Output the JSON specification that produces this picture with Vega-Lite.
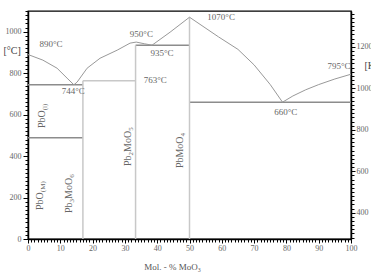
{
  "$schema": "https://vega.github.io/schema/vega-lite/v6.json",
  "autosize": "none",
  "width": 323,
  "height": 228,
  "padding": {"left": 28, "top": 11, "right": 20, "bottom": 37},
  "background": "white",
  "config": {
    "view": {"stroke": "#000", "strokeWidth": 1.3},
    "axis": {"labelFont": "Liberation Serif", "labelFontSize": 8, "labelColor": "#666", "tickColor": "#000", "domainColor": "#000", "domainWidth": 1.5, "grid": false, "titleFont": "Liberation Serif", "titleFontWeight": "normal", "labelBound": false},
    "text": {"font": "Liberation Serif"}
  },
  "datasets": {
    "liquidus": [
      {"x": 0, "T": 890}, {"x": 4.6, "T": 863}, {"x": 9, "T": 824}, {"x": 12.1, "T": 776}, {"x": 14.2, "T": 744},
      {"x": 15.2, "T": 757}, {"x": 18.3, "T": 824}, {"x": 22.3, "T": 872}, {"x": 27.6, "T": 911}, {"x": 31.6, "T": 945},
      {"x": 33.5, "T": 950}, {"x": 36, "T": 942}, {"x": 38.4, "T": 935}, {"x": 44, "T": 998}, {"x": 50, "T": 1070},
      {"x": 59, "T": 975}, {"x": 65, "T": 915}, {"x": 70, "T": 840}, {"x": 75, "T": 745}, {"x": 78.8, "T": 660},
      {"x": 82, "T": 690}, {"x": 86, "T": 720}, {"x": 90, "T": 745}, {"x": 95, "T": 772}, {"x": 100, "T": 795}
    ],
    "segments": [
      {"x": 0, "x2": 17, "T": 744, "T2": 744, "kind": "invariant"},
      {"x": 0, "x2": 17, "T": 489, "T2": 489, "kind": "invariant"},
      {"x": 17, "x2": 33.3, "T": 763, "T2": 763, "kind": "boundary"},
      {"x": 33.3, "x2": 50, "T": 935, "T2": 935, "kind": "invariant"},
      {"x": 50, "x2": 100, "T": 660, "T2": 660, "kind": "invariant"},
      {"x": 17, "x2": 17, "T": 0, "T2": 763, "kind": "boundary"},
      {"x": 33.3, "x2": 33.3, "T": 0, "T2": 935, "kind": "boundary"},
      {"x": 50, "x2": 50, "T": 0, "T2": 1070, "kind": "boundary"}
    ],
    "temps": [
      {"t": "890°C", "x": 7.1, "T": 940},
      {"t": "744°C", "x": 14.0, "T": 713},
      {"t": "950°C", "x": 35.1, "T": 988},
      {"t": "935°C", "x": 41.5, "T": 896},
      {"t": "763°C", "x": 39.4, "T": 766},
      {"t": "1070°C", "x": 59.8, "T": 1070},
      {"t": "795°C", "x": 96.3, "T": 834},
      {"t": "660°C", "x": 79.8, "T": 612}
    ],
    "phaseMain": [
      {"t": "PbO", "x": 5.2, "T": 535},
      {"t": "PbO", "x": 4.6, "T": 140},
      {"t": "Pb", "x": 13.5, "T": 125},
      {"t": "MoO", "x": 13.5, "T": 193},
      {"t": "Pb", "x": 32.0, "T": 352},
      {"t": "MoO", "x": 32.0, "T": 420},
      {"t": "PbMoO", "x": 48.0, "T": 342}
    ],
    "phaseSub": [
      {"t": "(l)", "x": 5.8, "T": 621},
      {"t": "(M)", "x": 5.2, "T": 226},
      {"t": "3", "x": 14.1, "T": 176},
      {"t": "6", "x": 14.1, "T": 295},
      {"t": "2", "x": 32.6, "T": 403},
      {"t": "5", "x": 32.6, "T": 522},
      {"t": "4", "x": 48.6, "T": 495}
    ]
  },
  "layer": [
    {
      "encoding": {
        "x": {"field": "x", "type": "quantitative", "scale": {"domain": [0, 100], "nice": false},
          "axis": {"values": [0,1,2,3,4,5,6,7,8,9,10,11,12,13,14,15,16,17,18,19,20,21,22,23,24,25,26,27,28,29,30,31,32,33,34,35,36,37,38,39,40,41,42,43,44,45,46,47,48,49,50,51,52,53,54,55,56,57,58,59,60,61,62,63,64,65,66,67,68,69,70,71,72,73,74,75,76,77,78,79,80,81,82,83,84,85,86,87,88,89,90,91,92,93,94,95,96,97,98,99,100],
            "labelExpr": "datum.value % 10 === 0 ? '' + datum.value : ''",
            "tickSize": {"condition": {"test": "datum.value % 10 === 0", "value": 4}, "value": 3},
            "labelPadding": 1, "labelFlush": false, "labelOverlap": false,
            "title": "Mol. - % MoO₃", "titleFontSize": 9, "titleColor": "#555", "titleX": 144, "titleY": 27, "titleBaseline": "middle", "titleAlign": "center"}},
        "y": {"field": "T", "type": "quantitative", "scale": {"domain": [0, 1100], "nice": false},
          "axis": {"values": [0,20,40,60,80,100,120,140,160,180,200,220,240,260,280,300,320,340,360,380,400,420,440,460,480,500,520,540,560,580,600,620,640,660,680,700,720,740,760,780,800,820,840,860,880,900,920,940,960,980,1000,1020,1040,1060,1080,1100],
            "labelExpr": "datum.value % 200 === 0 ? '' + datum.value : ''",
            "tickSize": {"condition": {"test": "datum.value % 200 === 0", "value": 5}, "value": 3},
            "labelPadding": 2, "labelFlush": false, "labelOverlap": false,
            "title": "[°C]", "titleAngle": 0, "titleFontSize": 10, "titleColor": "#444", "titleX": -25, "titleY": 39, "titleAlign": "left", "titleBaseline": "middle"}}
      },
      "layer": [
        {
          "data": {"name": "segments"},
          "mark": {"type": "rule", "strokeWidth": 1.5},
          "encoding": {
            "x2": {"field": "x2"},
            "y2": {"field": "T2"},
            "color": {"field": "kind", "type": "nominal", "scale": {"domain": ["invariant", "boundary"], "range": ["#8c8c8c", "#c8c8c8"]}, "legend": null}
          }
        },
        {
          "data": {"name": "liquidus"},
          "mark": {"type": "line", "stroke": "#999", "strokeWidth": 1}
        },
        {
          "data": {"name": "temps"},
          "mark": {"type": "text", "fontSize": 9, "fill": "#666", "align": "center", "baseline": "middle"},
          "encoding": {"text": {"field": "t"}}
        },
        {
          "data": {"name": "phaseMain"},
          "mark": {"type": "text", "fontSize": 10, "fill": "#666", "align": "left", "baseline": "alphabetic", "angle": 270},
          "encoding": {"text": {"field": "t"}}
        },
        {
          "data": {"name": "phaseSub"},
          "mark": {"type": "text", "fontSize": 7, "fill": "#666", "align": "left", "baseline": "alphabetic", "angle": 270},
          "encoding": {"text": {"field": "t"}}
        }
      ]
    },
    {
      "data": {"values": [{"K": 273.15}, {"K": 1373.15}]},
      "mark": {"type": "point", "opacity": 0},
      "encoding": {
        "y": {"field": "K", "type": "quantitative", "scale": {"domain": [273.15, 1373.15], "nice": false},
          "axis": {"orient": "right", "values": [280,300,320,340,360,380,400,420,440,460,480,500,520,540,560,580,600,620,640,660,680,700,720,740,760,780,800,820,840,860,880,900,920,940,960,980,1000,1020,1040,1060,1080,1100,1120,1140,1160,1180,1200,1220,1240,1260,1280,1300,1320,1340,1360],
            "labelExpr": "datum.value % 200 === 0 ? '' + datum.value : ''",
            "tickSize": {"condition": {"test": "datum.value % 200 === 0", "value": 4}, "value": 3},
            "labelPadding": 1, "labelFlush": false, "labelOverlap": false,
            "title": "[K]", "titleAngle": 0, "titleFontSize": 10, "titleColor": "#444", "titleX": 13, "titleY": 54, "titleAlign": "left", "titleBaseline": "middle"}}
      }
    }
  ],
  "resolve": {"scale": {"y": "independent"}}
}
